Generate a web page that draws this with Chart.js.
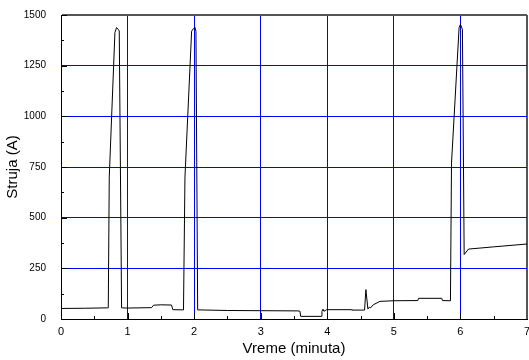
<!DOCTYPE html>
<html>
<head>
<meta charset="utf-8">
<script src="https://cdn.jsdelivr.net/npm/chart.js@4"></script>
<style>
    html, body { margin: 0; padding: 0; background: #ffffff; }
    #wrap { width: 529px; height: 360px; }
</style>
</head>
<body>
<div id="wrap"><canvas id="current-chart"></canvas></div>
<script>
const timeMin = [
    0.00, 0.35, 0.70, 0.71, 0.725, 0.81, 0.835, 0.86, 0.875, 0.91,
    1.00, 1.36, 1.39, 1.50, 1.66, 1.68, 1.84,
    1.847, 1.862, 1.962, 1.987, 2.012, 2.027, 2.053,
    2.50, 3.00, 3.56, 3.59, 3.60, 3.91, 3.92, 3.935, 3.95, 3.99,
    4.36, 4.37, 4.56, 4.58, 4.61, 4.63, 4.65, 4.69, 4.79, 5.00, 5.36, 5.37,
    5.72, 5.73, 5.85, 5.866, 5.98, 6.00, 6.03, 6.056, 6.12, 6.50, 7.00
];
const currentA = [
    52, 53, 55, 55, 700, 1414, 1438, 1429, 1421, 55,
    54, 56, 68, 70, 69, 46, 45,
    45, 700, 1420, 1432, 1440, 1420, 45,
    42, 41, 40, 38, 13, 13, 38, 49, 38, 46,
    46, 44, 44, 145, 49, 58, 55, 70, 87, 90, 91, 102,
    102, 91, 90, 769, 1438, 1454, 1429, 318, 345, 356, 370
];
const xTicks = [0, 1, 2, 3, 4, 5, 6, 7];
const yTicks = [0, 250, 500, 750, 1000, 1250, 1500];

document.addEventListener("DOMContentLoaded", function () {
    const ctx = document.getElementById("current-chart").getContext("2d");
    Chart.defaults.font.family = "'Liberation Sans', Arial, sans-serif";
    Chart.defaults.color = "#000000";

    const points = timeMin.map((t, i) => ({ x: t, y: currentA[i] }));

    // grid colours per tick: hidden at the axis, blue inside, dark frame at the far edge
    const gridColors = (ticks) => ticks.map((v, i) =>
        i === 0 ? "rgba(0,0,0,0)" : (i === ticks.length - 1 ? "#555555" : "#0000ff"));
    const gridWidths = (ticks) => ticks.map((v, i) => i === ticks.length - 1 ? 2 : 1);

    // small inward ticks like the original plot
    const innerTicks = {
        id: "innerTicks",
        afterDraw(chart) {
            const c = chart.ctx;
            const xs = chart.scales.x;
            const ys = chart.scales.y;
            const area = chart.chartArea;
            c.save();
            c.strokeStyle = "#000000";
            c.lineWidth = 1;
            c.beginPath();
            for (let v = 125; v < 1500; v += 125) {
                const py = Math.round(ys.getPixelForValue(v)) + 0.5;
                const len = v % 250 === 0 ? 6 : 3;
                c.moveTo(area.left, py);
                c.lineTo(area.left + len, py);
            }
            const topY = Math.round(ys.getPixelForValue(1500)) + 0.5;
            c.moveTo(area.left, topY);
            c.lineTo(area.left + 6, topY);
            for (let v = 0.5; v < 7; v += 0.5) {
                const px = Math.round(xs.getPixelForValue(v)) + 0.5;
                const len = v % 1 === 0 ? 6 : 3;
                c.moveTo(px, area.bottom);
                c.lineTo(px, area.bottom - len);
            }
            c.stroke();
            c.restore();
        }
    };

    new Chart(ctx, {
        type: "line",
        data: {
            datasets: [{
                data: points,
                borderColor: "#000000",
                borderWidth: 1,
                pointRadius: 0,
                tension: 0,
                fill: false
            }]
        },
        options: {
            responsive: true,
            maintainAspectRatio: false,
            animation: false,
            layout: { padding: { top: 15, right: 2, left: 0, bottom: 0 } },
            plugins: {
                legend: { display: false },
                tooltip: { enabled: false }
            },
            scales: {
                x: {
                    type: "linear",
                    min: 0,
                    max: 7,
                    afterBuildTicks: scale => { scale.ticks = xTicks.map(v => ({ value: v })); },
                    afterFit: scale => {
                        scale.height = 41;
                        scale.paddingLeft = 0;
                        scale.paddingRight = 0;
                    },
                    grid: {
                        drawTicks: false,
                        color: gridColors(xTicks),
                        lineWidth: gridWidths(xTicks)
                    },
                    border: { color: "#000000", width: 1 },
                    ticks: { padding: 6, font: { size: 11 }, maxRotation: 0, callback: v => String(v) },
                    title: {
                        display: true,
                        text: "Vreme (minuta)",
                        font: { size: 15 },
                        padding: { top: 0, bottom: 2 }
                    }
                },
                y: {
                    min: 0,
                    max: 1500,
                    afterBuildTicks: scale => { scale.ticks = yTicks.map(v => ({ value: v })); },
                    afterFit: scale => {
                        scale.width = 61;
                        scale.paddingTop = 0;
                        scale.paddingBottom = 0;
                    },
                    grid: {
                        drawTicks: false,
                        color: gridColors(yTicks),
                        lineWidth: gridWidths(yTicks)
                    },
                    border: { color: "#000000", width: 1 },
                    ticks: { padding: 15, font: { size: 10 }, callback: v => String(v) },
                    title: {
                        display: true,
                        text: "Struja (A)",
                        font: { size: 15 },
                        padding: { top: 4, bottom: 0 }
                    }
                }
            }
        },
        plugins: [innerTicks]
    });
});
</script>
</body>
</html>
